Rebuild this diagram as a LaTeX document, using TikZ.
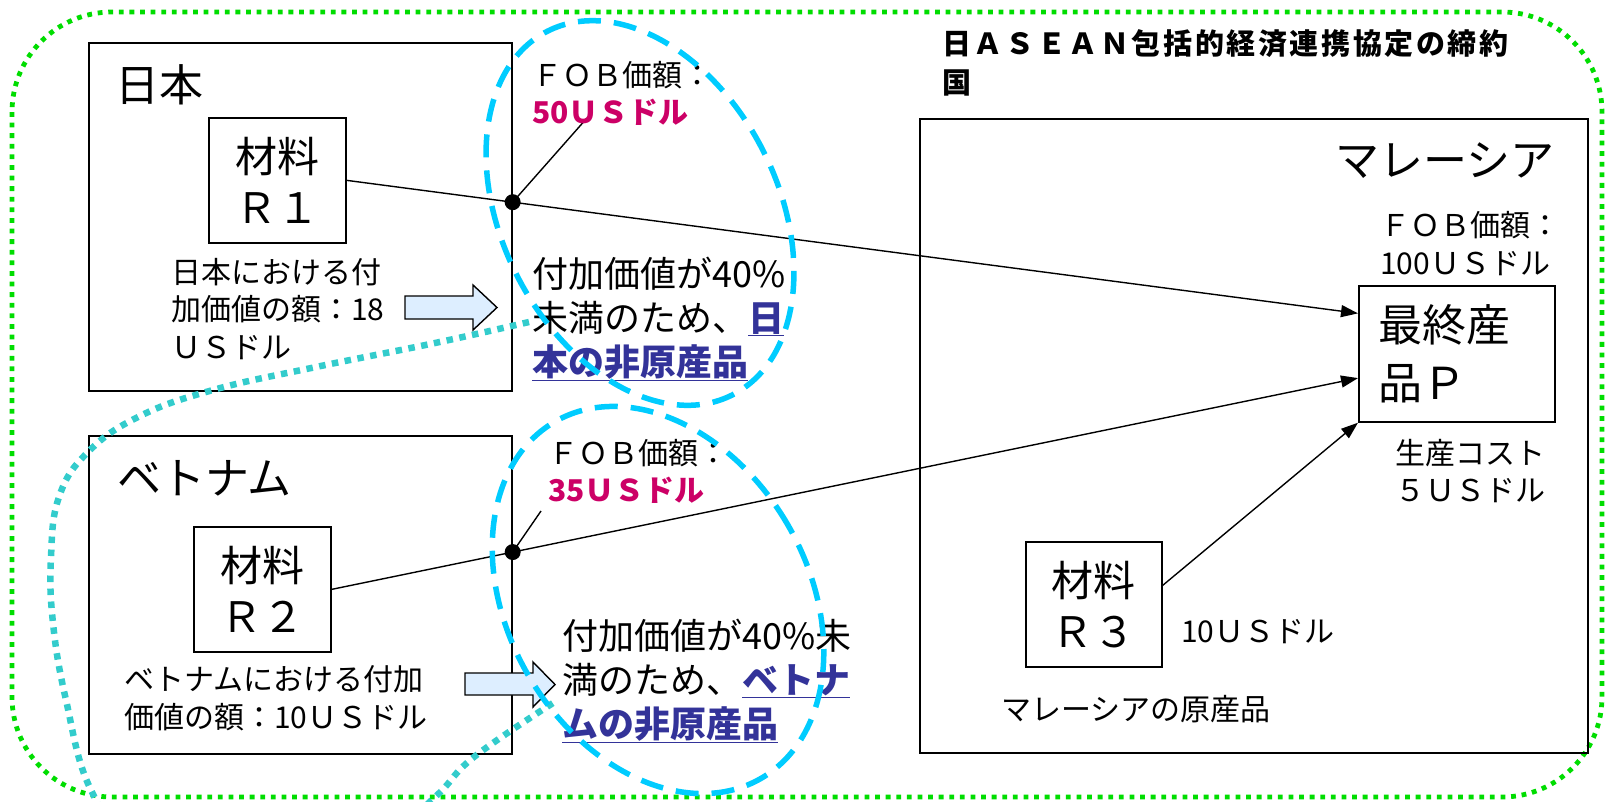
\documentclass[tikz,border=0pt]{standalone}
\usepackage{fontspec}
\setmainfont{Noto Sans CJK JP}
\newfontfamily\titlefont{Noto Sans CJK JP}[LetterSpace=9]
\usetikzlibrary{arrows.meta,calc}
\definecolor{gdot}{RGB}{0,221,0}
\definecolor{cyd}{RGB}{0,204,255}
\definecolor{tealdot}{RGB}{51,204,204}
\definecolor{mag}{RGB}{204,0,102}
\definecolor{dblue}{RGB}{51,51,153}
\definecolor{afill}{RGB}{221,238,255}
\begin{document}
\begin{tikzpicture}[x=1pt,y=-1pt,
  box/.style={draw, line width=1.7pt, inner sep=0pt},
  txt/.style={inner sep=0pt, anchor=west, align=left},
  big/.style={font=\fontsize{44}{50}\selectfont},
  mat/.style={font=\fontsize{42}{51}\selectfont, align=center},
  mid/.style={font=\fontsize{36}{44}\selectfont},
  sml/.style={font=\fontsize{30}{37.5}\selectfont},
  link/.style={line width=1.4pt},
  arr/.style={link, -{Triangle[length=17pt,width=12pt]}},
  oval/.style={draw=cyd, line width=5.5pt, dash pattern=on 23pt off 13pt},
  tealline/.style={draw=tealdot, line width=6.5pt, dash pattern=on 6.5pt off 6.5pt},
  greenline/.style={draw=gdot, line width=4.8pt, dash pattern=on 4.8pt off 5.8pt, rounded corners=100pt},
  blockarrow/.style={draw, fill=afill, line width=1.4pt, line join=miter}
]
\useasboundingbox (0,0) rectangle (1605,801);

% outer green frame
\draw[greenline] (12,12) rectangle (1602,797);

% country boxes
\node[box, anchor=north west, minimum width=423pt, minimum height=348pt] (J) at (88,42) {};
\node[box, anchor=north west, minimum width=423pt, minimum height=318pt] (V) at (88,435) {};
\node[box, anchor=north west, minimum width=668pt, minimum height=634pt] (M) at (919,118) {};

% teal dotted curve
\draw[tealline] plot[smooth, tension=0.7] coordinates {(529,322) (435,343) (316,367) (213,390) (138,417) (87,453) (59,497) (51,557) (53,623) (66,700) (91,790) (140,850) (260,880) (380,840) (435,797) (474,757) (553,703)};

% material boxes
\node[box, mat, anchor=north west, minimum width=137pt, minimum height=125pt] (R1) at (208,117) {材料\\Ｒ１};
\node[box, mat, anchor=north west, minimum width=137pt, minimum height=125pt] (R2) at (193,526) {材料\\Ｒ２};
\node[box, mat, anchor=north west, minimum width=136pt, minimum height=125pt] (R3) at (1025,541) {材料\\Ｒ３};
\node[box, anchor=north west, minimum width=196pt, minimum height=136pt, align=left, text width=156pt, inner xsep=20pt, font=\fontsize{44}{58}\selectfont] (P) at (1358,285) {最終産\\品Ｐ};

% connectors
\coordinate (pa) at ($(P.north west)!0.206!(P.south west)$);
\coordinate (pb) at ($(P.north west)!0.676!(P.south west)$);
\coordinate (r3o) at ($(R3.north east)!0.35!(R3.south east)$);
\draw[arr] (R1.east) -- (pa);
\draw[arr] (R2.east) -- (pb);
\draw[arr] (r3o) -- (P.south west);

\coordinate (d1) at (intersection of R1.east--pa and J.north east--J.south east);
\coordinate (d2) at (intersection of R2.east--pb and V.north east--V.south east);
\coordinate (c1) at (587,118);
\coordinate (c2) at (541,511);
\draw[link] (d1) -- (c1);
\draw[link] (d2) -- (c2);
\fill (d1) circle (8pt);
\fill (d2) circle (8pt);

% block arrows
\draw[blockarrow] (405,296) -- (473,296) -- (473,285) -- (497,307.5) -- (473,330) -- (473,319) -- (405,319) -- cycle;
\draw[blockarrow] (465,673) -- (533,673) -- (533,662) -- (555,684.5) -- (533,707) -- (533,695) -- (465,695) -- cycle;

% labels
\node[txt, font=\titlefont\bfseries\fontsize{29}{39}\selectfont] (title) at (942,62.5) {日ＡＳＥＡＮ包括的経済連携協定の締約\\国};
\node[txt, big] (jlab) at (115,85) {日本};
\node[txt, big] (vlab) at (117,478) {ベトナム};
\node[txt, big, anchor=east] (mlab) at (1555,161) {マレーシア};

\node[txt, sml] (jv) at (171,309) {日本における付\\加価値の額：18\\ＵＳドル};
\node[txt, sml] (vv) at (124,698) {ベトナムにおける付加\\価値の額：10ＵＳドル};

\node[txt, sml] (jf) at (532,93.5) {ＦＯＢ価額：\\{\color{mag}\bfseries 50ＵＳドル}};
\node[txt, sml] (vf) at (548,471.5) {ＦＯＢ価額：\\{\color{mag}\bfseries 35ＵＳドル}};

\node[txt, mid] (jn) at (532,319) {付加価値が40\%\\未満のため、{\color{dblue}\bfseries\underline{日}}\\{\color{dblue}\bfseries\underline{本の非原産品}}};
\node[txt, mid] (vn) at (562,681) {付加価値が40\%未\\満のため、{\color{dblue}\bfseries\underline{ベトナ}}\\{\color{dblue}\bfseries\underline{ムの非原産品}}};

\node[txt, sml] (mf) at (1380,243.5) {ＦＯＢ価額：\\100ＵＳドル};
\node[txt, sml] (mc) at (1395,471) {生産コスト\\５ＵＳドル};
\node[txt, sml] (m10) at (1181,632) {10ＵＳドル};
\node[txt, sml] (mo) at (1001,709) {マレーシアの原産品};

% dashed ellipses
\draw[oval, rotate around={27:(640,213)}] (640,213) ellipse [x radius=138pt, y radius=204pt];
\draw[oval, rotate around={30:(658,600)}] (658,600) ellipse [x radius=150pt, y radius=206pt];
\end{tikzpicture}
\end{document}
